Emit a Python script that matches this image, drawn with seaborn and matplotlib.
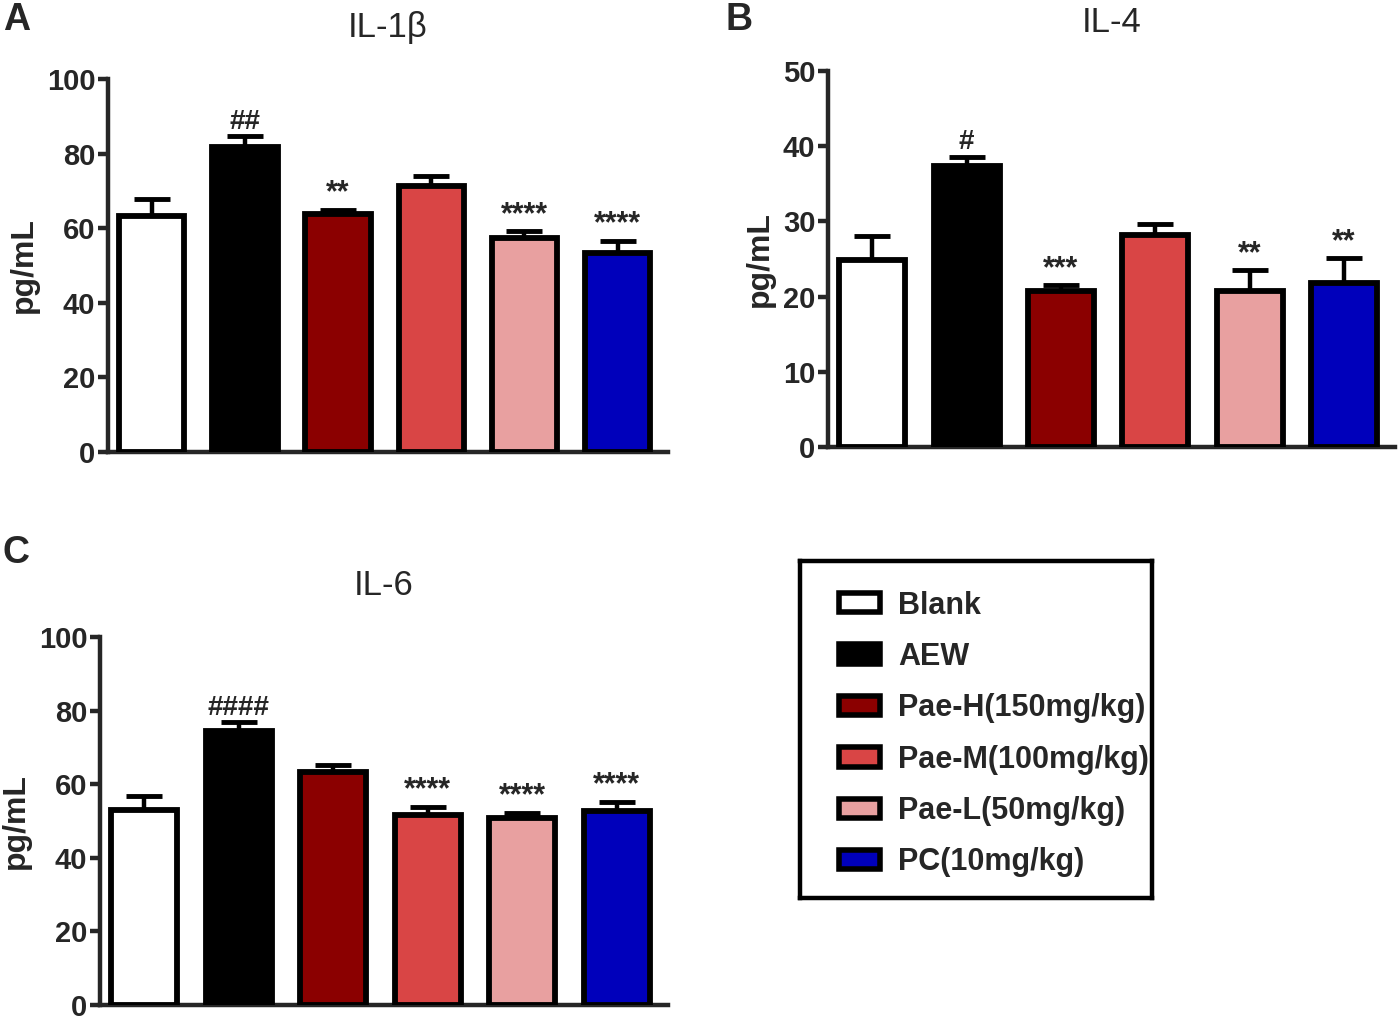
import numpy as np
import matplotlib
matplotlib.use("Agg")
import matplotlib.pyplot as plt
import seaborn as sns
from matplotlib.patches import Patch

# groups and colours
groups = ['Blank', 'AEW', 'Pae-H(150mg/kg)', 'Pae-M(100mg/kg)', 'Pae-L(50mg/kg)', 'PC(10mg/kg)']
colors = ['#FFFFFF', '#000000', '#8B0000', '#D94545', '#E8A0A0', '#0000BB']

# IL-1beta
il1b_mean = [63.3, 81.8, 63.8, 71.3, 57.4, 53.4]
il1b_err = [4.5, 2.9, 1.1, 2.7, 1.8, 3.2]
il1b_sig = ['', '##', '**', '', '****', '****']

# IL-4
il4_mean = [24.9, 37.4, 20.7, 28.2, 20.7, 21.8]
il4_err = [3.2, 1.2, 0.8, 1.5, 2.8, 3.3]
il4_sig = ['', '#', '***', '', '**', '**']

# IL-6
il6_mean = [53.1, 74.4, 63.2, 51.7, 50.7, 52.8]
il6_err = [3.7, 2.4, 1.9, 2.2, 1.6, 2.4]
il6_sig = ['', '####', '', '****', '****', '****']

sns.set_theme(style="ticks")
plt.rcParams['font.family'] = ['Liberation Sans', 'DejaVu Sans']
plt.rcParams['font.weight'] = 'bold'

fig = plt.figure(figsize=(14, 10.24), dpi=100)


def panel(rect, means, errs, sigs, title, ymax, step, letter, letter_xy, title_pad):
    ax = fig.add_axes(rect)
    sns.barplot(x=groups, y=means, hue=groups, palette=colors, legend=False, saturation=1,
                width=0.7, edgecolor='black', linewidth=4.2, ax=ax, zorder=3)
    x = np.arange(len(groups))
    ax.errorbar(x, means, yerr=[np.zeros(len(means)), errs], fmt='none',
                ecolor='black', elinewidth=3.2, capsize=13, capthick=3.5, zorder=2)
    for xi, m, e, s in zip(x, means, errs, sigs):
        if s:
            fs = 22 if '*' in s else 20
            ax.annotate(s, (xi, m + e), xytext=(0, 1), textcoords='offset points',
                        ha='center', va='bottom', fontsize=fs, fontweight='bold')
    ax.set_ylim(0, ymax)
    ax.set_xlim(-0.47, 5.54)
    ax.set_yticks(np.arange(0, ymax + 1, step))
    ax.set_xticks([])
    ax.set_ylabel('pg/mL', fontsize=23, fontweight='bold', labelpad=6)
    ax.set_title(title, fontsize=25, fontweight='normal', pad=title_pad)
    for sp in ['top', 'right']:
        ax.spines[sp].set_visible(False)
    for sp in ['left', 'bottom']:
        ax.spines[sp].set_linewidth(3.2)
    ax.tick_params(axis='y', length=7, width=3.2, labelsize=21, pad=2)
    for lab in ax.get_yticklabels():
        lab.set_fontweight('bold')
    fig.text(letter_xy[0], letter_xy[1], letter, fontsize=27, fontweight='bold',
             ha='left', va='top')
    return ax


panel([0.0771, 0.5586, 0.400, 0.3643], il1b_mean, il1b_err, il1b_sig,
      'IL-1β', 100, 20, 'A', (0.002, 0.998), 30)
panel([0.5914, 0.5635, 0.405, 0.3672], il4_mean, il4_err, il4_sig,
      'IL-4', 50, 10, 'B', (0.518, 0.998), 28)
panel([0.0714, 0.0185, 0.4057, 0.3594], il6_mean, il6_err, il6_sig,
      'IL-6', 100, 20, 'C', (0.002, 0.478), 30)

# legend box
ax_leg = fig.add_axes([0.5714, 0.123, 0.2514, 0.329])
ax_leg.set_xticks([])
ax_leg.set_yticks([])
ax_leg.set_facecolor('white')
for sp in ax_leg.spines.values():
    sp.set_linewidth(3.2)
    sp.set_color('black')
handles = [Patch(facecolor=c, edgecolor='black', linewidth=4) for c in colors]
ax_leg.legend(handles, groups, loc='center left', bbox_to_anchor=(0.075, 0.487),
              frameon=False, prop={'size': 22, 'weight': 'bold'},
              handlelength=1.35, handleheight=0.6, handletextpad=0.6,
              labelspacing=0.7, borderaxespad=0)

fig.savefig('out.png', dpi=100, facecolor='white')
